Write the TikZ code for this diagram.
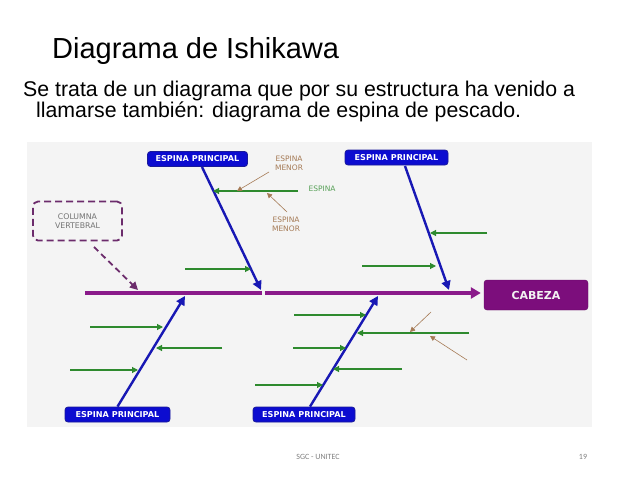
\documentclass[tikz,border=0pt]{standalone}
\usepackage{fontspec}
\setmainfont{Liberation Sans}
\newfontfamily\labelfont{DejaVu Sans}
\newfontfamily\footfont{Carlito}
\usetikzlibrary{shapes,arrows.meta}
\definecolor{espblue}{HTML}{0C0CD0}
\definecolor{espdark}{HTML}{1A1A9A}
\definecolor{bonecol}{HTML}{1818B4}
\definecolor{spinecol}{HTML}{8A1A8A}
\definecolor{headcol}{HTML}{7C0E7C}
\definecolor{colcol}{HTML}{6C2C6C}
\definecolor{minorcol}{HTML}{2E8A2E}
\definecolor{notecol}{HTML}{A57A55}
\definecolor{panelcol}{HTML}{F4F4F4}
\tikzset{
  principal/.style = {rectangle, rounded corners=3pt, fill=espblue, draw=espdark,
                      line width=0.8pt, text=white, minimum height=15pt,
                      inner sep=1pt, font=\labelfont\bfseries\fontsize{8.1}{9}\selectfont},
  headbox/.style   = {rectangle, rounded corners=3pt, fill=headcol, draw=headcol!80!black,
                      text=white!90!gray, minimum width=104pt, minimum height=30pt,
                      font=\labelfont\bfseries\fontsize{11}{12}\selectfont},
  colbox/.style    = {rectangle, rounded corners=5pt, draw=colcol, dashed,
                      dash pattern=on 7pt off 4pt, line width=1.8pt,
                      minimum width=89pt, minimum height=39pt, align=center,
                      text=gray!90!black, font=\labelfont\fontsize{7.8}{9}\selectfont},
  note/.style      = {align=center, text=notecol, font=\labelfont\fontsize{7.5}{8.8}\selectfont},
  spine/.style     = {draw=spinecol, line width=3.6pt},
  bone/.style      = {draw=bonecol, line width=2.4pt, -{Triangle[length=9pt,width=9pt]}},
  minor/.style     = {draw=minorcol, line width=1.1pt, -{Triangle[length=6pt,width=6pt]}},
  pointer/.style   = {draw=notecol, line width=0.6pt, -{Triangle[length=5pt,width=5pt]}},
}

\begin{document}
\begin{tikzpicture}[x=1pt,y=-1pt]
	\useasboundingbox[fill=white] (0,0) rectangle (638,479);
	\fill[panelcol] (27,142) rectangle (592,427);
	% texts
	\node[anchor=base west, inner sep=0pt, font=\fontsize{29}{32}\selectfont] (title) at (52,58) {Diagrama de Ishikawa};
	\node[anchor=base west, inner sep=0pt, font=\fontsize{21.3}{23}\selectfont] (line1) at (23,96) {Se trata de un diagrama que por su estructura ha venido a};
	\node[anchor=base west, inner sep=0pt, font=\fontsize{21.3}{23}\selectfont] (line2) at (36,117) {llamarse también: diagrama de espina de pescado.};
	% boxes
	\node[principal, minimum width=100pt] (P1) at (197.5,159) {ESPINA PRINCIPAL};
	\node[principal, minimum width=103pt] (P2) at (396.5,157.5) {ESPINA PRINCIPAL};
	\node[principal, minimum width=105pt] (P3) at (117.5,414.5) {ESPINA PRINCIPAL};
	\node[principal, minimum width=102pt] (P4) at (304,414.5) {ESPINA PRINCIPAL};
	\node[headbox] (head) at (536,295) {CABEZA};
	\node[colbox] (col) at (77.5,221) {COLUMNA\\VERTEBRAL};
	\node[note] (n1) at (289,163) {ESPINA\\MENOR};
	\node[note] (n2) at (286,224.5) {ESPINA\\MENOR};
	\node[note, text=minorcol!80!white] (n3) at (322,189) {ESPINA};
	% spine
	\coordinate (tail) at (85,293);
	\coordinate (gapl) at (262,293);
	\coordinate (gapr) at (265,293);
	\draw[spine] (tail) -- (gapl);
	\draw[spine, -{Triangle[length=10pt,width=11pt]}, shorten >=3pt] (gapr) -- (head.west |- gapr);
	% main bones
	\coordinate (s1) at (202,167);
	\coordinate (e1) at (261,290);
	\coordinate (s2) at (405,166);
	\coordinate (e2) at (449,290);
	\coordinate (e3) at (185,296);
	\coordinate (e4) at (378,296);
	\draw[bone] (s1) -- (e1);
	\draw[bone] (s2) -- (e2);
	\draw[bone] (P3.north) -- (e3);
	\draw[bone] ([xshift=6pt]P4.north) -- (e4);
	% minor bones
	\foreach \n/\xa/\xb/\y in {1/298/213/191, 2/185/251/269, 3/487/430/233, 4/362/436/266,
	                            5/90/163/327, 6/222/156/348, 7/70/138/370,
	                            8/294/366/315, 9/469/357/333, 10/293/346/348,
	                            11/402/333/369, 12/255/323/385}{
		\coordinate (m\n a) at (\xa,\y);
		\coordinate (m\n b) at (\xb,\y);
		\draw[minor] (m\n a) -- (m\n b);
	}
	% pointers to minor bones
	\coordinate (q1) at (269,172);
	\coordinate (r1) at (237,191);
	\coordinate (q2) at (287,212);
	\coordinate (r2) at (267,193);
	\coordinate (q3) at (431,312);
	\coordinate (r3) at (410,332);
	\coordinate (q4) at (467,360);
	\coordinate (r4) at (430,336);
	\draw[pointer] (q1) -- (r1);
	\draw[pointer] (q2) -- (r2);
	\draw[pointer] (q3) -- (r3);
	\draw[pointer] (q4) -- (r4);
	% column pointer
	\coordinate (cs) at (94,247);
	\coordinate (ce) at (138,290);
	\draw[colcol, line width=1.8pt, dash pattern=on 6pt off 4pt, -{Triangle[length=8pt,width=8pt]}] (cs) -- (ce);
	% footer
	\node[text=gray, font=\footfont\fontsize{8}{9}\selectfont] (foot) at (318,457) {SGC - UNITEC};
	\node[text=gray, font=\footfont\fontsize{8}{9}\selectfont] (page) at (583,457) {19};
\end{tikzpicture}
\end{document}
